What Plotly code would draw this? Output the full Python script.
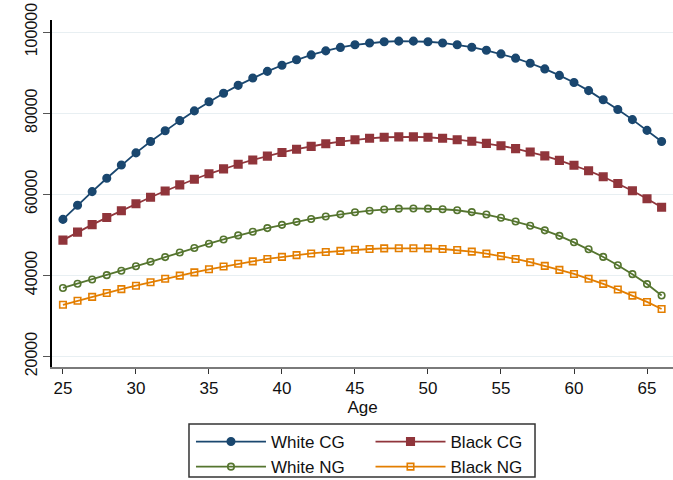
import plotly.graph_objects as go

# Predicted earnings by age for four groups
ages = list(range(25, 67))

white_cg = [53800, 57300, 60650, 63950, 67200, 70200, 73000, 75650, 78150, 80550,
            82800, 84900, 86850, 88650, 90300, 91800, 93150, 94350, 95350, 96200,
            96850, 97300, 97600, 97750, 97750, 97600, 97300, 96850, 96250, 95500,
            94600, 93550, 92300, 90900, 89300, 87550, 85550, 83300, 80900, 78400,
            75750, 73000]

black_cg = [48700, 50650, 52500, 54250, 55950, 57650, 59250, 60800, 62300, 63700,
            65050, 66250, 67400, 68450, 69400, 70300, 71100, 71800, 72450, 73000,
            73450, 73800, 74050, 74150, 74150, 74050, 73800, 73450, 73050, 72550,
            71950, 71250, 70400, 69450, 68350, 67150, 65800, 64300, 62650, 60850,
            58900, 56800]

white_ng = [36900, 37950, 39000, 40050, 41150, 42250, 43350, 44500, 45650, 46750,
            47800, 48850, 49850, 50750, 51650, 52450, 53200, 53900, 54500, 55050,
            55550, 55950, 56250, 56450, 56500, 56450, 56300, 56050, 55600, 55000,
            54200, 53300, 52250, 51100, 49750, 48150, 46450, 44550, 42500, 40300,
            37850, 35050]

black_ng = [32750, 33750, 34700, 35650, 36600, 37450, 38300, 39150, 39950, 40750,
            41500, 42200, 42850, 43450, 44050, 44550, 45000, 45400, 45750, 46050,
            46300, 46500, 46650, 46700, 46700, 46650, 46500, 46250, 45850, 45350,
            44750, 44050, 43250, 42350, 41350, 40350, 39150, 37900, 36500, 35000,
            33450, 31700]

x_ticks = [25, 30, 35, 40, 45, 50, 55, 60, 65]
y_ticks = [20000, 40000, 60000, 80000, 100000]
y_tick_labels = ["20000", "40000", "60000", "80000", "100000"]

NAVY = "#1a476f"
MAROON = "#90353b"
GREEN = "#55752f"
ORANGE = "#e37e00"

fig = go.Figure()

# (name, values, colour, marker, size, legend column)
series = [
    ("White CG", white_cg, NAVY, "circle", 7.5, "legend"),
    ("Black CG", black_cg, MAROON, "square", 7.5, "legend2"),
    ("White NG", white_ng, GREEN, "circle-open", 6.5, "legend"),
    ("Black NG", black_ng, ORANGE, "square-open", 6.5, "legend2"),
]

for name, vals, color, symbol, size, leg in series:
    fig.add_trace(go.Scatter(
        x=ages, y=vals, name=name, mode="lines+markers",
        legend=leg,
        line=dict(color=color, width=1.8),
        marker=dict(symbol=symbol, size=size, color=color,
                    line=dict(color=color, width=1.6)),
    ))

legend_common = dict(
    orientation="v",
    xanchor="left",
    y=-0.1643, yanchor="top",
    borderwidth=0,
    bgcolor="rgba(0,0,0,0)",
    font=dict(size=17),
    itemwidth=70,
    tracegroupgap=0,
)

fig.update_layout(
    width=673, height=480,
    margin=dict(l=52, r=0, t=20, b=113, autoexpand=False),
    paper_bgcolor="white",
    plot_bgcolor="white",
    font=dict(family="Liberation Sans, Arial, sans-serif", size=17, color="#111111"),
    showlegend=True,
    legend=dict(x=0.2238, **legend_common),
    legend2=dict(x=0.5129, **legend_common),
    shapes=[dict(
        type="rect", xref="paper", yref="paper",
        x0=0.2206, x1=0.7778, y0=-0.3170, y1=-0.1643,
        line=dict(color="#333333", width=1.5),
        fillcolor="rgba(0,0,0,0)", layer="below",
    )],
)

fig.update_xaxes(
    range=[24.25, 66.78],
    tickmode="array", tickvals=x_ticks,
    ticks="outside", ticklen=5, tickcolor="#333333", tickwidth=1.2,
    showline=True, linecolor="#7a7a7a", linewidth=2,
    showgrid=False, zeroline=False,
    tickfont=dict(size=17),
    title=dict(text="Age", font=dict(size=17), standoff=0),
)

fig.update_yaxes(
    range=[17410, 102960],
    tickmode="array", tickvals=y_ticks, ticktext=y_tick_labels,
    ticks="outside", ticklen=7, tickcolor="#555555", tickwidth=1.2,
    showline=True, linecolor="#000000", linewidth=1.5,
    showgrid=True, gridcolor="#e8eff2", gridwidth=1.2,
    zeroline=False,
    tickangle=-90,
    tickfont=dict(size=16),
)

fig.write_html("out.html")
